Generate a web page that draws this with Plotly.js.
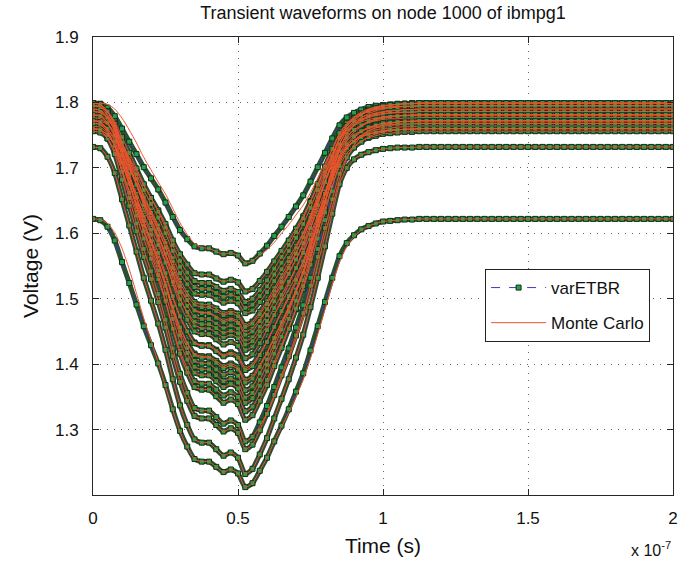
<!DOCTYPE html>
<html><head><meta charset="utf-8">
<script src="https://cdn.plot.ly/plotly-3.0.1.min.js"></script>
<style>html,body{margin:0;padding:0;background:#fff}#chart{width:697px;height:562px}</style>
</head><body><div id="chart"></div>
<script>
// time in units of 1e-7 s
const time = [0,0.025,0.05,0.075,0.1,0.125,0.15,0.175,0.2,0.225,0.25,0.275,0.3,0.325,0.35,0.375,0.4,0.425,0.45,0.475,0.5,0.525,0.55,0.575,0.6,0.625,0.65,0.675,0.7,0.725,0.75,0.775,0.8,0.825,0.85,0.875,0.9,0.925,0.95,0.975,1,1.025,1.05,1.075,1.1,1.125,1.15,1.175,1.2,1.225,1.25,1.275,1.3,1.325,1.35,1.375,1.4,1.425,1.45,1.475,1.5,1.525,1.55,1.575,1.6,1.625,1.65,1.675,1.7,1.725,1.75,1.775,1.8,1.825,1.85,1.875,1.9,1.925,1.95,1.975,2];

const curveA = [1.799,1.798,1.792,1.779,1.760,1.740,1.721,1.701,1.684,1.667,1.647,1.625,1.605,1.591,1.580,1.577,1.577,1.572,1.568,1.570,1.566,1.554,1.558,1.569,1.581,1.596,1.610,1.625,1.641,1.658,1.679,1.701,1.723,1.745,1.765,1.777,1.784,1.789,1.793,1.795,1.796,1.797,1.798,1.798,1.799,1.799,1.799,1.799,1.799,
1.799,1.799,1.799,1.799,1.799,1.799,1.799,1.799,1.799,1.799,1.799,1.799,1.799,1.799,1.799,1.799,1.799,1.799,1.799,1.799,1.799,1.799,1.799,1.799,1.799,1.799,1.799,1.799,1.799,1.799,1.799,1.799];
const curveB = [1.781,1.780,1.773,1.759,1.738,1.716,1.695,1.673,1.654,1.635,1.614,1.589,1.568,1.552,1.539,1.537,1.537,1.531,1.526,1.529,1.525,1.511,1.515,1.527,1.541,1.557,1.573,1.589,1.607,1.626,1.649,1.673,1.697,1.722,1.743,1.757,1.765,1.770,1.774,1.776,1.778,1.779,1.780,1.780,1.781,1.781,1.781,1.781,1.781,
1.781,1.781,1.781,1.781,1.781,1.781,1.781,1.781,1.781,1.781,1.781,1.781,1.781,1.781,1.781,1.781,1.781,1.781,1.781,1.781,1.781,1.781,1.781,1.781,1.781,1.781,1.781,1.781,1.781,1.781,1.781,1.781];
const curveC = [1.795,1.794,1.786,1.771,1.747,1.723,1.699,1.675,1.654,1.633,1.609,1.582,1.558,1.540,1.527,1.524,1.524,1.518,1.512,1.515,1.510,1.495,1.500,1.513,1.528,1.546,1.564,1.582,1.602,1.623,1.648,1.675,1.702,1.729,1.753,1.768,1.777,1.783,1.787,1.790,1.792,1.793,1.794,1.794,1.794,1.795,1.795,1.795,1.795,
1.795,1.795,1.795,1.795,1.795,1.795,1.795,1.795,1.795,1.795,1.795,1.795,1.795,1.795,1.795,1.795,1.795,1.795,1.795,1.795,1.795,1.795,1.795,1.795,1.795,1.795,1.795,1.795,1.795,1.795,1.795,1.795];
const curveD = [1.768,1.767,1.759,1.745,1.722,1.698,1.675,1.652,1.632,1.611,1.588,1.562,1.539,1.522,1.508,1.506,1.506,1.500,1.494,1.497,1.493,1.478,1.482,1.495,1.510,1.527,1.545,1.562,1.581,1.601,1.626,1.652,1.678,1.704,1.727,1.742,1.751,1.756,1.760,1.763,1.765,1.766,1.767,1.767,1.767,1.768,1.768,1.768,1.768,
1.768,1.768,1.768,1.768,1.768,1.768,1.768,1.768,1.768,1.768,1.768,1.768,1.768,1.768,1.768,1.768,1.768,1.768,1.768,1.768,1.768,1.768,1.768,1.768,1.768,1.768,1.768,1.768,1.768,1.768,1.768,1.768];
const curveE = [1.790,1.788,1.780,1.764,1.737,1.711,1.684,1.658,1.635,1.612,1.585,1.556,1.529,1.510,1.495,1.491,1.491,1.485,1.478,1.481,1.477,1.460,1.465,1.480,1.496,1.516,1.536,1.556,1.577,1.600,1.628,1.658,1.688,1.717,1.744,1.760,1.770,1.777,1.781,1.784,1.786,1.788,1.788,1.789,1.789,1.790,1.790,1.790,1.790,
1.790,1.790,1.790,1.790,1.790,1.790,1.790,1.790,1.790,1.790,1.790,1.790,1.790,1.790,1.790,1.790,1.790,1.790,1.790,1.790,1.790,1.790,1.790,1.790,1.790,1.790,1.790,1.790,1.790,1.790,1.790,1.790];
const curveF = [1.760,1.758,1.751,1.735,1.710,1.686,1.661,1.636,1.614,1.593,1.568,1.540,1.515,1.497,1.483,1.479,1.479,1.473,1.467,1.470,1.466,1.450,1.455,1.469,1.484,1.503,1.521,1.540,1.560,1.582,1.608,1.636,1.664,1.692,1.717,1.732,1.741,1.748,1.752,1.755,1.757,1.758,1.758,1.759,1.759,1.760,1.760,1.760,1.760,
1.760,1.760,1.760,1.760,1.760,1.760,1.760,1.760,1.760,1.760,1.760,1.760,1.760,1.760,1.760,1.760,1.760,1.760,1.760,1.760,1.760,1.760,1.760,1.760,1.760,1.760,1.760,1.760,1.760,1.760,1.760,1.760];
const curveG = [1.786,1.784,1.776,1.758,1.730,1.702,1.674,1.646,1.622,1.597,1.569,1.538,1.510,1.489,1.473,1.469,1.469,1.462,1.455,1.459,1.454,1.436,1.441,1.457,1.475,1.496,1.517,1.538,1.560,1.585,1.615,1.646,1.678,1.709,1.737,1.755,1.765,1.772,1.777,1.780,1.782,1.784,1.784,1.785,1.785,1.786,1.786,1.786,1.786,
1.786,1.786,1.786,1.786,1.786,1.786,1.786,1.786,1.786,1.786,1.786,1.786,1.786,1.786,1.786,1.786,1.786,1.786,1.786,1.786,1.786,1.786,1.786,1.786,1.786,1.786,1.786,1.786,1.786,1.786,1.786,1.786];
const curveH = [1.772,1.770,1.762,1.744,1.716,1.688,1.660,1.632,1.608,1.583,1.555,1.524,1.496,1.475,1.459,1.455,1.455,1.448,1.441,1.445,1.440,1.422,1.427,1.443,1.461,1.482,1.503,1.524,1.546,1.571,1.601,1.632,1.664,1.695,1.723,1.741,1.751,1.758,1.763,1.766,1.768,1.770,1.770,1.771,1.771,1.772,1.772,1.772,1.772,
1.772,1.772,1.772,1.772,1.772,1.772,1.772,1.772,1.772,1.772,1.772,1.772,1.772,1.772,1.772,1.772,1.772,1.772,1.772,1.772,1.772,1.772,1.772,1.772,1.772,1.772,1.772,1.772,1.772,1.772,1.772,1.772];
const curveI = [1.777,1.775,1.767,1.751,1.726,1.700,1.675,1.649,1.627,1.604,1.579,1.550,1.524,1.505,1.491,1.487,1.487,1.481,1.475,1.478,1.473,1.457,1.462,1.476,1.492,1.511,1.531,1.550,1.571,1.593,1.620,1.649,1.678,1.707,1.732,1.748,1.758,1.764,1.769,1.772,1.774,1.775,1.775,1.776,1.776,1.777,1.777,1.777,1.777,
1.777,1.777,1.777,1.777,1.777,1.777,1.777,1.777,1.777,1.777,1.777,1.777,1.777,1.777,1.777,1.777,1.777,1.777,1.777,1.777,1.777,1.777,1.777,1.777,1.777,1.777,1.777,1.777,1.777,1.777,1.777,1.777];
const curveJ = [1.799,1.797,1.787,1.768,1.737,1.705,1.674,1.643,1.616,1.588,1.557,1.522,1.491,1.468,1.450,1.446,1.446,1.438,1.430,1.434,1.428,1.409,1.415,1.432,1.452,1.475,1.499,1.522,1.547,1.575,1.608,1.643,1.678,1.713,1.744,1.764,1.776,1.783,1.789,1.792,1.795,1.796,1.797,1.798,1.798,1.799,1.799,1.799,1.799,
1.799,1.799,1.799,1.799,1.799,1.799,1.799,1.799,1.799,1.799,1.799,1.799,1.799,1.799,1.799,1.799,1.799,1.799,1.799,1.799,1.799,1.799,1.799,1.799,1.799,1.799,1.799,1.799,1.799,1.799,1.799,1.799];
const curveK = [1.764,1.762,1.753,1.734,1.705,1.675,1.646,1.616,1.590,1.564,1.535,1.501,1.472,1.450,1.433,1.429,1.429,1.422,1.414,1.418,1.413,1.394,1.400,1.416,1.435,1.457,1.479,1.501,1.525,1.551,1.583,1.616,1.649,1.683,1.712,1.731,1.742,1.749,1.754,1.758,1.760,1.761,1.762,1.763,1.763,1.764,1.764,1.764,1.764,
1.764,1.764,1.764,1.764,1.764,1.764,1.764,1.764,1.764,1.764,1.764,1.764,1.764,1.764,1.764,1.764,1.764,1.764,1.764,1.764,1.764,1.764,1.764,1.764,1.764,1.764,1.764,1.764,1.764,1.764,1.764,1.764];
const curveL = [1.756,1.754,1.745,1.726,1.695,1.665,1.634,1.604,1.577,1.551,1.520,1.486,1.456,1.433,1.416,1.412,1.412,1.405,1.397,1.401,1.395,1.376,1.382,1.399,1.418,1.441,1.463,1.486,1.511,1.538,1.570,1.604,1.638,1.672,1.703,1.722,1.733,1.741,1.746,1.749,1.752,1.753,1.754,1.755,1.755,1.756,1.756,1.756,1.756,
1.756,1.756,1.756,1.756,1.756,1.756,1.756,1.756,1.756,1.756,1.756,1.756,1.756,1.756,1.756,1.756,1.756,1.756,1.756,1.756,1.756,1.756,1.756,1.756,1.756,1.756,1.756,1.756,1.756,1.756,1.756,1.756];
const curveM = [1.790,1.788,1.777,1.756,1.721,1.687,1.652,1.618,1.588,1.558,1.523,1.485,1.450,1.425,1.405,1.401,1.401,1.392,1.384,1.388,1.382,1.360,1.366,1.386,1.407,1.433,1.459,1.485,1.513,1.543,1.579,1.618,1.657,1.695,1.730,1.751,1.764,1.773,1.779,1.783,1.785,1.787,1.788,1.789,1.789,1.790,1.790,1.790,1.790,
1.790,1.790,1.790,1.790,1.790,1.790,1.790,1.790,1.790,1.790,1.790,1.790,1.790,1.790,1.790,1.790,1.790,1.790,1.790,1.790,1.790,1.790,1.790,1.790,1.790,1.790,1.790,1.790,1.790,1.790,1.790,1.790];
const curveN = [1.781,1.779,1.768,1.746,1.711,1.675,1.640,1.605,1.574,1.543,1.508,1.469,1.433,1.407,1.387,1.383,1.383,1.374,1.365,1.370,1.363,1.341,1.348,1.367,1.389,1.416,1.442,1.469,1.497,1.528,1.565,1.605,1.645,1.684,1.719,1.741,1.755,1.763,1.770,1.774,1.776,1.778,1.779,1.780,1.780,1.781,1.781,1.781,1.781,
1.781,1.781,1.781,1.781,1.781,1.781,1.781,1.781,1.781,1.781,1.781,1.781,1.781,1.781,1.781,1.781,1.781,1.781,1.781,1.781,1.781,1.781,1.781,1.781,1.781,1.781,1.781,1.781,1.781,1.781,1.781,1.781];
const curveO = [1.768,1.766,1.755,1.733,1.698,1.662,1.627,1.592,1.561,1.530,1.495,1.456,1.420,1.394,1.374,1.370,1.370,1.361,1.352,1.357,1.350,1.328,1.335,1.354,1.376,1.403,1.429,1.456,1.484,1.515,1.552,1.592,1.632,1.671,1.706,1.728,1.742,1.750,1.757,1.761,1.763,1.765,1.766,1.767,1.767,1.768,1.768,1.768,1.768,
1.768,1.768,1.768,1.768,1.768,1.768,1.768,1.768,1.768,1.768,1.768,1.768,1.768,1.768,1.768,1.768,1.768,1.768,1.768,1.768,1.768,1.768,1.768,1.768,1.768,1.768,1.768,1.768,1.768,1.768,1.768,1.768];
const curveP = [1.795,1.793,1.781,1.757,1.718,1.680,1.641,1.603,1.569,1.536,1.497,1.454,1.416,1.387,1.365,1.361,1.361,1.351,1.341,1.346,1.339,1.315,1.322,1.344,1.368,1.397,1.425,1.454,1.485,1.519,1.560,1.603,1.646,1.689,1.728,1.752,1.766,1.776,1.783,1.787,1.790,1.792,1.793,1.794,1.794,1.795,1.795,1.795,1.795,
1.795,1.795,1.795,1.795,1.795,1.795,1.795,1.795,1.795,1.795,1.795,1.795,1.795,1.795,1.795,1.795,1.795,1.795,1.795,1.795,1.795,1.795,1.795,1.795,1.795,1.795,1.795,1.795,1.795,1.795,1.795,1.795];
const curveQ = [1.772,1.770,1.757,1.733,1.694,1.654,1.615,1.576,1.542,1.507,1.468,1.424,1.385,1.356,1.333,1.329,1.329,1.319,1.309,1.314,1.307,1.282,1.289,1.311,1.336,1.365,1.395,1.424,1.456,1.490,1.532,1.576,1.620,1.664,1.703,1.728,1.743,1.752,1.759,1.764,1.767,1.769,1.770,1.771,1.771,1.772,1.772,1.772,1.772,
1.772,1.772,1.772,1.772,1.772,1.772,1.772,1.772,1.772,1.772,1.772,1.772,1.772,1.772,1.772,1.772,1.772,1.772,1.772,1.772,1.772,1.772,1.772,1.772,1.772,1.772,1.772,1.772,1.772,1.772,1.772,1.772];
const curveR = [1.760,1.758,1.745,1.721,1.682,1.642,1.603,1.564,1.530,1.495,1.456,1.412,1.373,1.344,1.321,1.317,1.317,1.307,1.297,1.302,1.295,1.270,1.277,1.299,1.324,1.353,1.383,1.412,1.444,1.478,1.520,1.564,1.608,1.652,1.691,1.716,1.731,1.740,1.747,1.752,1.755,1.757,1.758,1.759,1.759,1.760,1.760,1.760,1.760,
1.760,1.760,1.760,1.760,1.760,1.760,1.760,1.760,1.760,1.760,1.760,1.760,1.760,1.760,1.760,1.760,1.760,1.760,1.760,1.760,1.760,1.760,1.760,1.760,1.760,1.760,1.760,1.760,1.760,1.760,1.760,1.760];
const curveS = [1.732,1.730,1.717,1.692,1.652,1.612,1.572,1.532,1.497,1.462,1.422,1.377,1.337,1.307,1.285,1.280,1.280,1.270,1.260,1.265,1.257,1.232,1.240,1.262,1.287,1.317,1.347,1.377,1.410,1.445,1.487,1.532,1.580,1.630,1.675,1.700,1.713,1.720,1.724,1.727,1.729,1.730,1.731,1.731,1.731,1.732,1.732,1.732,1.732,
1.732,1.732,1.732,1.732,1.732,1.732,1.732,1.732,1.732,1.732,1.732,1.732,1.732,1.732,1.732,1.732,1.732,1.732,1.732,1.732,1.732,1.732,1.732,1.732,1.732,1.732,1.732,1.732,1.732,1.732,1.732,1.732];
const curveT = [1.622,1.620,1.610,1.589,1.556,1.524,1.491,1.458,1.429,1.401,1.368,1.331,1.298,1.274,1.255,1.251,1.251,1.243,1.235,1.239,1.233,1.212,1.218,1.237,1.257,1.282,1.306,1.331,1.358,1.386,1.421,1.458,1.495,1.532,1.565,1.585,1.597,1.606,1.611,1.615,1.618,1.619,1.620,1.621,1.621,1.622,1.622,1.622,1.622,
1.622,1.622,1.622,1.622,1.622,1.622,1.622,1.622,1.622,1.622,1.622,1.622,1.622,1.622,1.622,1.622,1.622,1.622,1.622,1.622,1.622,1.622,1.622,1.622,1.622,1.622,1.622,1.622,1.622,1.622,1.622,1.622];
const curveU = [1.786,1.785,1.777,1.762,1.738,1.714,1.690,1.666,1.645,1.624,1.600,1.573,1.549,1.531,1.518,1.515,1.515,1.509,1.503,1.506,1.501,1.486,1.491,1.504,1.519,1.537,1.555,1.573,1.593,1.614,1.639,1.666,1.693,1.720,1.744,1.759,1.768,1.774,1.778,1.781,1.783,1.784,1.785,1.785,1.785,1.786,1.786,1.786,1.786,
1.786,1.786,1.786,1.786,1.786,1.786,1.786,1.786,1.786,1.786,1.786,1.786,1.786,1.786,1.786,1.786,1.786,1.786,1.786,1.786,1.786,1.786,1.786,1.786,1.786,1.786,1.786,1.786,1.786,1.786,1.786,1.786];
const curveV = [1.795,1.793,1.785,1.767,1.739,1.711,1.683,1.655,1.631,1.606,1.578,1.547,1.519,1.498,1.482,1.478,1.478,1.471,1.464,1.468,1.463,1.445,1.450,1.466,1.484,1.505,1.526,1.547,1.569,1.594,1.624,1.655,1.687,1.718,1.746,1.764,1.774,1.781,1.786,1.789,1.791,1.793,1.793,1.794,1.794,1.795,1.795,1.795,1.795,
1.795,1.795,1.795,1.795,1.795,1.795,1.795,1.795,1.795,1.795,1.795,1.795,1.795,1.795,1.795,1.795,1.795,1.795,1.795,1.795,1.795,1.795,1.795,1.795,1.795,1.795,1.795,1.795,1.795,1.795,1.795,1.795];
const curveW = [1.760,1.758,1.750,1.734,1.707,1.681,1.654,1.628,1.605,1.582,1.555,1.526,1.499,1.480,1.465,1.461,1.461,1.455,1.448,1.451,1.447,1.430,1.435,1.450,1.466,1.486,1.506,1.526,1.547,1.570,1.598,1.628,1.658,1.687,1.714,1.730,1.740,1.747,1.751,1.754,1.756,1.758,1.758,1.759,1.759,1.760,1.760,1.760,1.760,
1.760,1.760,1.760,1.760,1.760,1.760,1.760,1.760,1.760,1.760,1.760,1.760,1.760,1.760,1.760,1.760,1.760,1.760,1.760,1.760,1.760,1.760,1.760,1.760,1.760,1.760,1.760,1.760,1.760,1.760,1.760,1.760];
const curveX = [1.781,1.779,1.769,1.750,1.719,1.687,1.656,1.625,1.598,1.570,1.539,1.504,1.473,1.450,1.432,1.428,1.428,1.420,1.412,1.416,1.410,1.391,1.397,1.414,1.434,1.457,1.481,1.504,1.529,1.557,1.590,1.625,1.660,1.695,1.726,1.746,1.758,1.765,1.771,1.774,1.777,1.778,1.779,1.780,1.780,1.781,1.781,1.781,1.781,
1.781,1.781,1.781,1.781,1.781,1.781,1.781,1.781,1.781,1.781,1.781,1.781,1.781,1.781,1.781,1.781,1.781,1.781,1.781,1.781,1.781,1.781,1.781,1.781,1.781,1.781,1.781,1.781,1.781,1.781,1.781,1.781];
const curveY = [1.772,1.770,1.760,1.740,1.708,1.676,1.644,1.612,1.584,1.556,1.524,1.488,1.456,1.432,1.414,1.410,1.410,1.402,1.394,1.398,1.392,1.372,1.378,1.396,1.416,1.440,1.464,1.488,1.514,1.542,1.576,1.612,1.648,1.684,1.716,1.736,1.748,1.756,1.762,1.765,1.768,1.769,1.770,1.771,1.771,1.772,1.772,1.772,1.772,
1.772,1.772,1.772,1.772,1.772,1.772,1.772,1.772,1.772,1.772,1.772,1.772,1.772,1.772,1.772,1.772,1.772,1.772,1.772,1.772,1.772,1.772,1.772,1.772,1.772,1.772,1.772,1.772,1.772,1.772,1.772,1.772];
const curveZ = [1.799,1.797,1.786,1.763,1.727,1.691,1.655,1.619,1.588,1.556,1.520,1.480,1.444,1.417,1.396,1.392,1.392,1.383,1.374,1.378,1.372,1.349,1.356,1.376,1.399,1.426,1.453,1.480,1.509,1.540,1.579,1.619,1.660,1.700,1.736,1.759,1.772,1.781,1.787,1.791,1.794,1.796,1.797,1.798,1.798,1.799,1.799,1.799,1.799,
1.799,1.799,1.799,1.799,1.799,1.799,1.799,1.799,1.799,1.799,1.799,1.799,1.799,1.799,1.799,1.799,1.799,1.799,1.799,1.799,1.799,1.799,1.799,1.799,1.799,1.799,1.799,1.799,1.799,1.799,1.799,1.799];

// Monte Carlo waveforms that visibly differ from varETBR
const monteA = [1.799,1.799,1.797,1.790,1.776,1.758,1.738,1.716,1.697,1.678,1.660,1.638,1.616,1.598,1.584,1.578,1.577,1.572,1.568,1.570,1.566,1.554,1.558,1.567,1.575,1.586,1.600,1.613,1.628,1.643,1.662,1.684,1.706,1.728,1.750,1.766,1.778,1.785,1.790,1.793,1.795,1.796,1.797,1.798,1.798,1.799,1.799,1.799,1.799,
1.799,1.799,1.799,1.799,1.799,1.799,1.799,1.799,1.799,1.799,1.799,1.799,1.799,1.799,1.799,1.799,1.799,1.799,1.799,1.799,1.799,1.799,1.799,1.799,1.799,1.799,1.799,1.799,1.799,1.799,1.799,1.799];
const monteH = [1.772,1.771,1.767,1.755,1.733,1.706,1.677,1.648,1.621,1.594,1.565,1.532,1.501,1.478,1.460,1.455,1.455,1.448,1.441,1.445,1.440,1.422,1.427,1.443,1.458,1.476,1.495,1.514,1.535,1.558,1.586,1.617,1.649,1.680,1.710,1.733,1.746,1.755,1.761,1.765,1.768,1.769,1.770,1.771,1.771,1.772,1.772,1.772,1.772,
1.772,1.772,1.772,1.772,1.772,1.772,1.772,1.772,1.772,1.772,1.772,1.772,1.772,1.772,1.772,1.772,1.772,1.772,1.772,1.772,1.772,1.772,1.772,1.772,1.772,1.772,1.772,1.772,1.772,1.772,1.772,1.772];
const monteQ = [1.772,1.770,1.757,1.733,1.694,1.654,1.615,1.576,1.542,1.507,1.468,1.424,1.385,1.356,1.333,1.329,1.329,1.319,1.309,1.314,1.307,1.282,1.289,1.305,1.325,1.350,1.378,1.408,1.438,1.470,1.508,1.552,1.597,1.640,1.682,1.714,1.735,1.748,1.756,1.761,1.765,1.768,1.770,1.771,1.771,1.772,1.772,1.772,1.772,
1.772,1.772,1.772,1.772,1.772,1.772,1.772,1.772,1.772,1.772,1.772,1.772,1.772,1.772,1.772,1.772,1.772,1.772,1.772,1.772,1.772,1.772,1.772,1.772,1.772,1.772,1.772,1.772,1.772,1.772,1.772,1.772];
const monteT = [1.622,1.621,1.615,1.601,1.577,1.545,1.508,1.470,1.436,1.402,1.366,1.330,1.297,1.273,1.255,1.251,1.251,1.243,1.235,1.239,1.233,1.212,1.218,1.237,1.257,1.282,1.304,1.326,1.350,1.377,1.409,1.446,1.484,1.522,1.556,1.580,1.595,1.605,1.611,1.615,1.618,1.619,1.620,1.621,1.621,1.622,1.622,1.622,1.622,
1.622,1.622,1.622,1.622,1.622,1.622,1.622,1.622,1.622,1.622,1.622,1.622,1.622,1.622,1.622,1.622,1.622,1.622,1.622,1.622,1.622,1.622,1.622,1.622,1.622,1.622,1.622,1.622,1.622,1.622,1.622,1.622];

const etbrCurves = [curveA,curveB,curveC,curveD,curveE,curveF,curveG,curveH,curveI,curveJ,curveK,curveL,curveM,curveN,curveO,curveP,curveQ,curveR,curveS,curveT,curveU,curveV,curveW,curveX,curveY,curveZ];
const monteCurves = [monteA,curveB,curveC,curveD,curveE,curveF,curveG,monteH,curveI,curveJ,curveK,curveL,curveM,curveN,curveO,curveP,monteQ,curveR,curveS,monteT,curveU,curveV,curveW,curveX,curveY,curveZ];

const xTickVals = [0,0.5,1,1.5,2];
const xTickText = ['0','0.5','1','1.5','2'];
const yTickVals = [1.3,1.4,1.5,1.6,1.7,1.8,1.9];
const yTickText = ['1.3','1.4','1.5','1.6','1.7','1.8','1.9'];

const traces = [];
// dense marker chain appearance (varETBR samples are very closely spaced)
etbrCurves.forEach((ys) => {
  traces.push({
    x: time, y: ys, type: 'scatter', mode: 'lines', showlegend: false, hoverinfo: 'skip',
    line: {color: '#2b4f31', width: 5, shape: 'spline', smoothing: 0.6}
  });
});
etbrCurves.forEach((ys, k) => {
  traces.push({
    x: time, y: ys, type: 'scatter', mode: 'lines+markers',
    name: 'varETBR', showlegend: k === 0, legendgroup: 'etbr',
    line: {color: '#3b3bb8', width: 1, dash: 'dash', shape: 'spline', smoothing: 0.6},
    marker: {symbol: 'square', size: 5, color: '#1fa347', line: {color: '#1e2a1e', width: 1}}
  });
});
monteCurves.forEach((ys, k) => {
  traces.push({
    x: time, y: ys, type: 'scatter', mode: 'lines',
    name: 'Monte Carlo', showlegend: k === 0, legendgroup: 'mc',
    line: {color: '#f0522a', width: 1, shape: 'spline', smoothing: 0.6}
  });
});

const FONT = 'Liberation Sans, Arial, Helvetica, sans-serif';
const axisCommon = {
  showline: true, mirror: 'ticks', linecolor: '#262626', linewidth: 1,
  ticks: 'inside', ticklen: 6, tickcolor: '#262626',
  showgrid: true, gridcolor: '#666', gridwidth: 1, griddash: '1px,6px',
  zeroline: false, tickfont: {family: FONT, size: 17, color: '#111'}
};

const layout = {
  width: 697, height: 562,
  margin: {l: 93, r: 24, t: 37, b: 67},
  paper_bgcolor: '#fff', plot_bgcolor: '#fff',
  font: {family: FONT, color: '#111'},
  title: {text: 'Transient waveforms on node 1000 of ibmpg1', x: 0.5, xref: 'paper', xanchor: 'center',
          y: 1 - 13/562, yref: 'container', yanchor: 'middle', font: {family: FONT, size: 18, color: '#111'}},
  xaxis: Object.assign({}, axisCommon, {range: [0, 2], tickvals: xTickVals, ticktext: xTickText,
          ticklabelstandoff: 8,
          title: {text: 'Time (s)', font: {family: FONT, size: 21, color: '#111'}, standoff: 10}}),
  yaxis: Object.assign({}, axisCommon, {range: [1.2, 1.9], tickvals: yTickVals, ticktext: yTickText,
          ticklabelstandoff: 10,
          title: {text: 'Voltage (V)', font: {family: FONT, size: 21, color: '#111'}, standoff: 10}}),
  legend: {x: 0.676, y: 0.4934, xanchor: 'left', yanchor: 'top', bgcolor: '#fff',
           bordercolor: '#222', borderwidth: 1, itemwidth: 55,
           font: {family: FONT, size: 17, color: '#111'}},
  annotations: [{text: 'x 10<sup>-7</sup>', xref: 'paper', yref: 'paper', x: 1, y: -0.118,
                 xanchor: 'right', yanchor: 'middle', showarrow: false,
                 font: {family: FONT, size: 16, color: '#111'}}],
  showlegend: true
};

Plotly.newPlot('chart', traces, layout, {displayModeBar: false, staticPlot: true});
</script>
</body></html>
